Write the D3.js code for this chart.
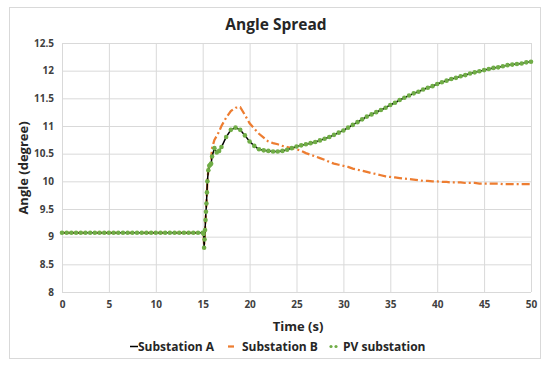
<!DOCTYPE html>
<html>
<head>
<meta charset="utf-8">
<script src="https://cdnjs.cloudflare.com/ajax/libs/d3/7.8.5/d3.min.js"></script>
<style>
  html, body { margin: 0; padding: 0; background: #fff; }
  svg { display: block; }
  text { font-family: "Open Sans", "Liberation Sans", sans-serif; }
</style>
</head>
<body>
<svg id="chart" width="550" height="368"></svg>
<script>
// ---- data ----
const title = "Angle Spread";
const xLabel = "Time (s)";
const yLabel = "Angle (degree)";
const seriesNames = ["Substation A", "Substation B", "PV substation"];
const xTicks = [0, 5, 10, 15, 20, 25, 30, 35, 40, 45, 50];
const yTicks = [8, 8.5, 9, 9.5, 10, 10.5, 11, 11.5, 12, 12.5];

const timeA = [0,0.5,1,1.5,2,2.5,3,3.5,4,4.5,5,5.5,6,6.5,7,7.5,8,8.5,9,9.5,10,10.5,11,11.5,12,12.5,13,13.5,14,14.5,15,
  15.1,15.15,15.2,15.25,15.3,15.35,15.4,15.45,15.5,15.6,15.7,15.8,15.9,16,16.25,16.5,16.75,17,17.5,18,18.5,19,19.5,20,
  20.5,21,21.5,22,22.5,23,23.5,24,24.5,25,25.5,26,26.5,27,27.5,28,28.5,29,29.5,30,30.5,31,31.5,32,32.5,33,33.5,34,34.5,35,
  35.5,36,36.5,37,37.5,38,38.5,39,39.5,40,40.5,41,41.5,42,42.5,43,43.5,44,44.5,45,45.5,46,46.5,47,47.5,48,48.5,49,49.5,50];
const substationA = [9.07,9.07,9.07,9.07,9.07,9.07,9.07,9.07,9.07,9.07,9.07,9.07,9.07,9.07,9.07,9.07,9.07,9.07,9.07,9.07,9.07,9.07,9.07,9.07,9.07,9.07,9.07,9.07,9.07,9.07,9.07,
  9.05,8.82,8.95,9.12,9.3,9.45,9.6,9.8,10.0,10.2,10.28,10.3,10.32,10.45,10.6,10.52,10.55,10.62,10.8,10.93,10.97,10.93,10.83,10.72,
  10.64,10.58,10.56,10.55,10.54,10.54,10.55,10.57,10.6,10.63,10.65,10.67,10.69,10.71,10.74,10.77,10.8,10.84,10.88,10.92,10.97,11.02,11.07,11.12,11.17,11.21,11.25,11.29,11.33,11.38,
  11.42,11.47,11.51,11.55,11.59,11.62,11.66,11.69,11.72,11.76,11.79,11.82,11.85,11.87,11.9,11.92,11.95,11.97,11.99,12.01,12.03,12.05,12.06,12.08,12.1,12.11,12.12,12.13,12.15,12.16];
const substationB = [9.07,9.07,9.07,9.07,9.07,9.07,9.07,9.07,9.07,9.07,9.07,9.07,9.07,9.07,9.07,9.07,9.07,9.07,9.07,9.07,9.07,9.07,9.07,9.07,9.07,9.07,9.07,9.07,9.07,9.07,9.07,
  9.05,8.84,8.95,9.12,9.3,9.45,9.6,9.8,10.0,10.2,10.28,10.32,10.4,10.6,10.75,10.82,10.9,11.0,11.15,11.27,11.33,11.34,11.2,11.05,
  10.95,10.86,10.79,10.72,10.69,10.67,10.64,10.62,10.6,10.58,10.55,10.51,10.48,10.45,10.42,10.39,10.35,10.32,10.3,10.28,10.26,10.23,10.21,10.19,10.17,10.15,10.13,10.11,10.09,10.08,
  10.07,10.06,10.05,10.04,10.03,10.02,10.01,10.01,10.0,10.0,9.99,9.99,9.98,9.98,9.98,9.97,9.97,9.97,9.96,9.96,9.96,9.96,9.96,9.95,9.95,9.95,9.95,9.95,9.95,9.95];
const pvSubstation = [9.07,9.07,9.07,9.07,9.07,9.07,9.07,9.07,9.07,9.07,9.07,9.07,9.07,9.07,9.07,9.07,9.07,9.07,9.07,9.07,9.07,9.07,9.07,9.07,9.07,9.07,9.07,9.07,9.07,9.07,9.07,
  9.05,8.8,8.95,9.12,9.3,9.45,9.6,9.8,10.0,10.2,10.28,10.3,10.32,10.45,10.6,10.52,10.55,10.62,10.8,10.93,10.97,10.93,10.83,10.72,
  10.64,10.58,10.56,10.55,10.54,10.54,10.55,10.57,10.6,10.63,10.65,10.67,10.69,10.71,10.74,10.77,10.8,10.84,10.88,10.92,10.97,11.02,11.07,11.12,11.17,11.21,11.25,11.29,11.33,11.38,
  11.42,11.47,11.51,11.55,11.59,11.62,11.66,11.69,11.72,11.76,11.79,11.82,11.85,11.87,11.9,11.92,11.95,11.97,11.99,12.01,12.03,12.05,12.06,12.08,12.1,12.11,12.12,12.13,12.15,12.16];

const colors = ["#000000", "#ed7d31", "#70ad47"];

// ---- drawing ----
const svg = d3.select("#chart");
const plot = { left: 62, right: 531, top: 43, bottom: 292 };

svg.append("rect").attr("x", 9.5).attr("y", 7.5).attr("width", 531).attr("height", 351)
  .attr("fill", "#fff").attr("stroke", "#d9d9d9").attr("stroke-width", 1);

const x = d3.scaleLinear().domain([0, 50]).range([plot.left, plot.right]);
const y = d3.scaleLinear().domain([8, 12.5]).range([plot.bottom, plot.top]);

// gridlines
const xAxis = d3.axisBottom(x).tickValues(xTicks).tickSize(-(plot.bottom - plot.top)).tickPadding(7).tickFormat(d3.format("d"));
const yAxis = d3.axisLeft(y).tickValues(yTicks).tickSize(-(plot.right - plot.left)).tickPadding(8).tickFormat(d => String(d));

const gx = svg.append("g").attr("transform", `translate(0,${plot.bottom})`).call(xAxis);
const gy = svg.append("g").attr("transform", `translate(${plot.left},0)`).call(yAxis);
[gx, gy].forEach(g => {
  g.select(".domain").remove();
  g.selectAll(".tick line").attr("stroke", "#d9d9d9").attr("stroke-width", 1);
  g.selectAll(".tick text").attr("fill", "#404040").attr("font-size", 10).attr("font-weight", "bold")
    .attr("font-family", "'Open Sans', sans-serif");
});
gx.selectAll(".tick text").attr("dy", "0.9em");

const pts = vals => timeA.map((t, i) => [t, vals[i]]);
const line = d3.line().x(d => x(d[0])).y(d => y(d[1]));

// Substation B (dash-dot)
svg.append("path").datum(pts(substationB)).attr("d", line)
  .attr("fill", "none").attr("stroke", colors[1]).attr("stroke-width", 2.25)
  .attr("stroke-dasharray", "8,3,2,3");
// Substation A
svg.append("path").datum(pts(substationA)).attr("d", line)
  .attr("fill", "none").attr("stroke", colors[0]).attr("stroke-width", 1.5);
// PV substation markers
svg.append("g").selectAll("circle").data(pts(pvSubstation)).join("circle")
  .attr("cx", d => x(d[0])).attr("cy", d => y(d[1])).attr("r", 2.3)
  .attr("fill", colors[2]);

// titles
svg.append("text").attr("x", 276).attr("y", 30).attr("text-anchor", "middle")
  .attr("font-size", 15.5).attr("font-weight", "bold").attr("fill", "#262626").text(title);
svg.append("text").attr("x", 298).attr("y", 331).attr("text-anchor", "middle")
  .attr("font-size", 13).attr("font-weight", "bold").attr("fill", "#262626").text(xLabel);
svg.append("text").attr("transform", "translate(28,168) rotate(-90)").attr("text-anchor", "middle")
  .attr("font-size", 13).attr("font-weight", "bold").attr("fill", "#262626").text(yLabel);

// legend
const lg = svg.append("g").attr("font-size", 12).attr("font-weight", "bold").attr("fill", "#262626");
lg.append("line").attr("x1", 130).attr("x2", 138).attr("y1", 346.5).attr("y2", 346.5).attr("stroke", colors[0]).attr("stroke-width", 1.5);
lg.append("text").attr("x", 138).attr("y", 351).text(seriesNames[0]);
lg.append("line").attr("x1", 228).attr("x2", 234).attr("y1", 346.5).attr("y2", 346.5).attr("stroke", colors[1]).attr("stroke-width", 2.25);
lg.append("text").attr("x", 242).attr("y", 351).text(seriesNames[1]);
lg.selectAll("circle.leg").data([331, 336]).join("circle").attr("class", "leg")
  .attr("cx", d => d).attr("cy", 346.5).attr("r", 1.6).attr("fill", colors[2]);
lg.append("text").attr("x", 343).attr("y", 351).text(seriesNames[2]);
</script>
</body>
</html>
